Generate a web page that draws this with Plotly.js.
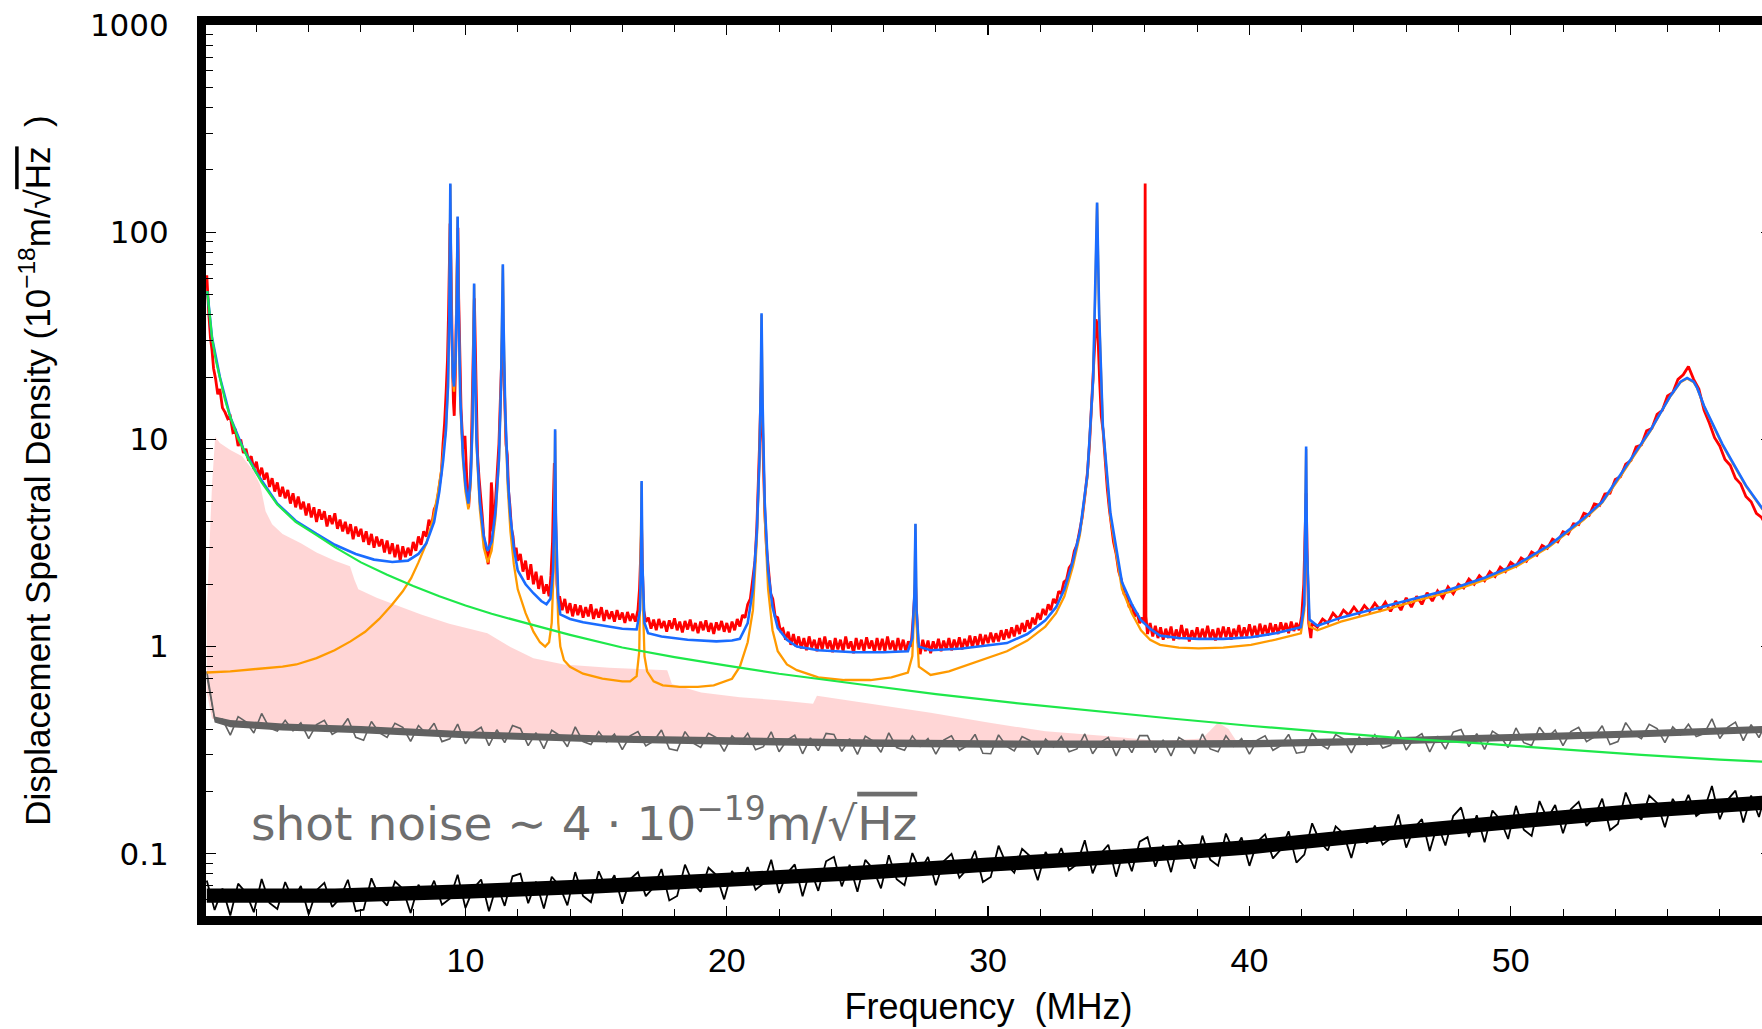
<!DOCTYPE html>
<html><head><meta charset="utf-8">
<script src="https://cdn.plot.ly/plotly-3.0.1.min.js"></script>
<style>html,body{margin:0;padding:0;overflow:hidden;background:#fff}#chart{width:1780px;height:1029px}</style>
</head><body><div id="chart"></div><script>
// ---------- data ----------
const xTickVals = [10, 20, 30, 40, 50];
const xTickText = ['10', '20', '30', '40', '50'];
const xMinorVals = [2,4,6,8,12,14,16,18,22,24,26,28,32,34,36,38,42,44,46,48,52,54,56,58];
const yTickVals = [0.1, 1, 10, 100, 1000];
const yTickText = ['0.1', '1', '10', '100', '1000'];
const yMinorVals = [0.06,0.07,0.08,0.09,0.2,0.3,0.4,0.5,0.6,0.7,0.8,0.9,2,3,4,5,6,7,8,9,20,30,40,50,60,70,80,90,200,300,400,500,600,700,800,900];

// measured displacement spectrum (red), [MHz, 1e-18 m/sqrt(Hz)]
const redSpectrum = [
[0.10,62],[0.14,48],[0.18,40],[0.24,31],[0.30,27],[0.36,22],[0.44,19.5],[0.52,16.5],[0.60,17.5],[0.70,14.2],
[0.80,13.5],[0.90,12.6],[1.00,12.9],[1.10,10.8],[1.20,11.0],[1.30,9.3],[1.40,10.0],[1.50,8.6],[1.60,9.0],[1.70,7.9],
[1.80,8.3],[1.90,7.2],[2.00,7.8],[2.10,6.6],[2.20,7.3],[2.30,6.4],[2.40,6.9],[2.50,5.9],[2.60,6.5],[2.70,5.6],
[2.80,6.2],[2.90,5.3],[3.00,5.9],[3.10,5.2],[3.20,5.7],[3.30,4.9],[3.40,5.5],[3.50,4.7],[3.60,5.3],[3.70,4.6],
[3.80,5.0],[3.90,4.3],[4.00,4.9],[4.10,4.2],[4.20,4.7],[4.30,4.0],[4.40,4.6],[4.50,4.1],[4.60,4.5],[4.70,3.8],
[4.80,4.3],[4.90,3.9],[5.00,4.4],[5.10,3.7],[5.20,4.1],[5.30,3.6],[5.40,4.0],[5.50,3.5],[5.60,3.9],[5.70,3.3],
[5.80,3.8],[5.90,3.4],[6.00,3.7],[6.10,3.2],[6.20,3.6],[6.30,3.1],[6.40,3.5],[6.50,3.0],[6.60,3.4],[6.70,3.05],
[6.80,3.3],[6.90,2.85],[7.00,3.25],[7.10,2.8],[7.20,3.15],[7.30,2.7],[7.40,3.1],[7.50,2.6],[7.60,3.05],[7.70,2.7],
[7.80,3.0],[7.90,2.75],[8.00,3.2],[8.10,2.9],[8.20,3.4],[8.30,3.1],[8.40,3.6],[8.50,3.4],[8.60,4.1],[8.70,3.8],
[8.80,4.6],[8.90,4.9],[9.00,6.2],[9.08,7.0],[9.14,9.5],
[9.20,12],[9.26,17],[9.31,24],[9.35,40],[9.38,70],[9.41,110],[9.43,90],[9.46,45],[9.50,24],[9.54,15],
[9.57,13],[9.61,20],[9.65,38],[9.68,80],[9.71,105],[9.74,48],[9.78,24],[9.83,14],[9.88,10.5],[9.93,9],
[9.98,10.4],[10.03,7.0],[10.08,5.3],[10.12,4.7],[10.17,5.8],[10.22,8.5],[10.27,15],[10.31,32],[10.34,48],[10.37,30],
[10.41,12],[10.46,8.5],[10.52,6.5],[10.58,5.0],[10.64,4.3],[10.70,3.4],[10.76,3.0],[10.82,2.7],[10.87,2.5],[10.92,3.0],
[10.96,4.2],[10.99,6.2],[11.02,5.5],[11.05,3.6],[11.10,4.0],[11.16,5.2],[11.22,6.9],[11.28,9.5],[11.33,15],[11.37,24],
[11.40,34],[11.43,36],[11.46,24],[11.50,14],[11.55,9.5],[11.60,8.4],[11.65,5.6],[11.70,4.8],[11.76,3.7],[11.82,3.4],
[11.88,2.8],[11.94,3.0],[12.00,2.6],
[12.1,2.8],[12.2,2.3],[12.3,2.6],[12.4,2.1],[12.5,2.5],[12.6,2.0],[12.7,2.3],[12.8,1.9],[12.9,2.2],[13.0,1.8],
[13.1,2.0],[13.2,1.75],[13.27,2.2],[13.33,3.2],[13.37,5.5],[13.40,7.7],[13.43,6.0],[13.46,3.2],[13.50,2.0],[13.55,1.7],
[13.6,1.75],[13.7,1.5],[13.8,1.7],[13.9,1.45],[14.0,1.62],[14.1,1.4],[14.2,1.6],[14.3,1.42],[14.4,1.58],[14.5,1.38],
[14.6,1.55],[14.7,1.4],[14.8,1.6],[14.9,1.36],[15.0,1.52],[15.1,1.38],[15.2,1.55],[15.3,1.33],[15.4,1.5],[15.5,1.36],
[15.6,1.48],[15.7,1.32],[15.8,1.5],[15.9,1.35],[16.0,1.46],[16.1,1.3],[16.2,1.47],[16.3,1.33],[16.4,1.44],[16.5,1.32],
[16.6,1.5],[16.66,1.9],[16.70,2.8],[16.74,3.7],[16.77,2.4],[16.82,1.5],[16.9,1.32],
[17.0,1.38],[17.1,1.22],[17.2,1.35],[17.3,1.2],[17.4,1.36],[17.5,1.23],[17.6,1.33],[17.7,1.18],[17.8,1.34],[17.9,1.22],
[18.0,1.37],[18.1,1.2],[18.2,1.32],[18.3,1.17],[18.4,1.33],[18.5,1.21],[18.6,1.35],[18.7,1.19],[18.8,1.3],[18.9,1.16],
[19.0,1.32],[19.1,1.2],[19.2,1.34],[19.3,1.18],[19.4,1.3],[19.5,1.15],[19.6,1.31],[19.7,1.2],[19.8,1.33],[19.9,1.18],
[20.0,1.3],[20.1,1.17],[20.2,1.32],[20.3,1.2],[20.4,1.36],[20.5,1.25],[20.6,1.42],[20.7,1.38],[20.8,1.6],[20.9,1.7],
[21.0,2.1],[21.08,2.6],[21.15,3.8],[21.21,6.0],[21.26,10],[21.30,16],[21.33,20],[21.36,12],[21.40,7],[21.45,4.6],
[21.52,3.0],[21.60,2.4],[21.68,1.8],[21.76,1.7],[21.85,1.4],[21.95,1.38],[22.05,1.2],
[22.15,1.22],[22.25,1.08],[22.35,1.18],[22.45,1.02],[22.55,1.15],[22.65,1.0],[22.75,1.12],[22.85,0.98],[22.95,1.1],[23.05,0.96],
[23.15,1.12],[23.25,0.99],[23.35,1.08],[23.45,0.95],[23.55,1.1],[23.65,0.97],[23.75,1.12],[23.85,0.98],[23.95,1.07],[24.05,0.94],
[24.15,1.1],[24.25,0.97],[24.35,1.08],[24.45,0.95],[24.55,1.12],[24.65,0.98],[24.75,1.06],[24.85,0.93],[24.95,1.1],[25.05,0.97],
[25.15,1.08],[25.25,0.95],[25.35,1.11],[25.45,0.98],[25.55,1.07],[25.65,0.94],[25.75,1.1],[25.85,0.96],[25.95,1.09],[26.05,0.95],
[26.15,1.12],[26.25,0.97],[26.35,1.07],[26.45,0.94],[26.55,1.1],[26.65,0.96],[26.75,1.08],[26.85,0.95],[26.95,1.06],[27.05,1.0],
[27.12,1.3],[27.18,1.7],[27.22,2.05],[27.26,1.5],[27.32,1.05],[27.4,0.92],
[27.5,1.08],[27.6,0.95],[27.7,1.07],[27.8,0.93],[27.9,1.06],[28.0,0.96],[28.1,1.09],[28.2,0.95],[28.3,1.07],[28.4,0.97],
[28.5,1.1],[28.6,0.96],[28.7,1.08],[28.8,0.98],[28.9,1.11],[29.0,0.97],[29.1,1.09],[29.2,1.0],[29.3,1.13],[29.4,0.99],
[29.5,1.12],[29.6,1.01],[29.7,1.15],[29.8,1.02],[29.9,1.14],[30.0,1.04],[30.1,1.17],[30.2,1.05],[30.3,1.16],[30.4,1.06],
[30.5,1.2],[30.6,1.08],[30.7,1.21],[30.8,1.1],[30.9,1.24],[31.0,1.12],[31.1,1.27],[31.2,1.15],[31.3,1.3],[31.4,1.18],
[31.5,1.34],[31.6,1.22],[31.7,1.38],[31.8,1.28],[31.9,1.45],[32.0,1.35],[32.1,1.52],[32.2,1.42],[32.3,1.6],[32.4,1.5],
[32.5,1.7],[32.6,1.62],[32.7,1.85],[32.8,1.8],[32.9,2.05],[33.0,2.1],
[33.1,2.4],[33.2,2.5],[33.3,2.9],[33.4,3.1],[33.5,3.7],[33.6,4.2],[33.7,5.3],[33.8,6.9],[33.88,9.5],[33.95,14],
[34.02,20],[34.08,30],[34.13,38],[34.17,36],[34.21,30],[34.27,19],[34.33,13],[34.4,11],[34.48,7.5],[34.56,5.8],
[34.64,4.6],[34.72,3.9],[34.8,3.2],[34.9,2.8],[35.0,2.3],[35.1,2.1],[35.2,1.8],[35.3,1.75],[35.4,1.55],[35.5,1.6],
[35.6,1.4],[35.7,1.45],[35.8,1.3],[35.9,1.38],[35.97,1.3],[36.01,172],[36.04,1.4],
[36.1,1.15],[36.2,1.3],[36.3,1.12],[36.4,1.26],[36.5,1.1],[36.6,1.24],[36.7,1.08],[36.8,1.22],[36.9,1.1],[37.0,1.25],
[37.1,1.07],[37.2,1.21],[37.3,1.09],[37.4,1.27],[37.5,1.1],[37.6,1.22],[37.7,1.06],[37.8,1.2],[37.9,1.09],[38.0,1.24],
[38.1,1.08],[38.2,1.22],[38.3,1.1],[38.4,1.26],[38.5,1.09],[38.6,1.21],[38.7,1.07],[38.8,1.23],[38.9,1.1],[39.0,1.25],
[39.1,1.11],[39.2,1.24],[39.3,1.08],[39.4,1.22],[39.5,1.12],[39.6,1.27],[39.7,1.1],[39.8,1.24],[39.9,1.12],[40.0,1.28],
[40.1,1.13],[40.2,1.26],[40.3,1.11],[40.4,1.29],[40.5,1.15],[40.6,1.27],[40.7,1.13],[40.8,1.3],[40.9,1.16],[41.0,1.28],
[41.1,1.15],[41.2,1.31],[41.3,1.18],[41.4,1.3],[41.5,1.16],[41.6,1.32],[41.7,1.19],[41.8,1.3],[41.9,1.2],[42.0,1.4],
[42.08,2.0],[42.13,4.0],[42.17,5.5],[42.21,2.8],[42.27,1.3],[42.35,1.1],
[42.4,1.3],[42.6,1.24],[42.8,1.36],[43.0,1.3],[43.2,1.45],[43.4,1.36],[43.6,1.5],[43.8,1.42],[44.0,1.55],[44.2,1.44],
[44.4,1.58],[44.6,1.48],[44.8,1.62],[45.0,1.5],[45.2,1.64],[45.4,1.48],[45.6,1.66],[45.8,1.5],[46.0,1.72],[46.2,1.55],
[46.4,1.75],[46.6,1.6],[46.8,1.82],[47.0,1.66],[47.2,1.86],[47.4,1.72],[47.6,1.94],[47.8,1.8],[48.0,2.0],[48.2,1.92],
[48.4,2.12],[48.6,2.0],[48.8,2.2],[49.0,2.08],[49.2,2.3],[49.4,2.18],[49.6,2.42],[49.8,2.3],[50.0,2.55],[50.2,2.44],
[50.4,2.68],[50.6,2.58],[50.8,2.86],[51.0,2.76],[51.2,3.08],[51.4,2.98],[51.6,3.3],[51.8,3.2],[52.0,3.58],[52.2,3.5],
[52.4,3.92],[52.6,3.88],[52.8,4.4],[53.0,4.3],[53.2,4.88],[53.4,4.8],[53.6,5.45],[53.8,5.5],[54.0,6.4],[54.2,6.6],
[54.4,7.6],[54.6,7.9],[54.8,9.2],[55.0,9.4],[55.2,11.0],[55.4,11.3],[55.6,13.2],[55.8,13.8],[56.0,16.2],[56.2,16.8],
[56.4,19.5],[56.6,20.5],[56.8,22.5],[57.0,19.5],[57.2,17.5],[57.4,13.8],[57.6,12.0],[57.8,10.2],[58.0,9.3],[58.2,8.0],
[58.4,7.5],[58.6,6.5],[58.8,6.1],[59.0,5.3],[59.2,5.0],[59.4,4.4],[59.6,4.2],[59.8,3.8],[59.96,3.7]
];

// full fit (blue)
const fitTotal = [
[0.12,52],[0.3,31],[0.6,20],[1.0,12.8],[1.5,9.0],[2.0,6.9],[2.8,4.9],[3.5,4.05],[4.3,3.5],[5.0,3.1],
[5.8,2.8],[6.5,2.63],[7.2,2.56],[7.8,2.6],[8.2,2.8],[8.5,3.15],[8.8,4.0],[9.0,5.6],[9.15,8.0],[9.25,11],
[9.33,18],[9.38,40],[9.42,172],[9.46,40],[9.52,20],[9.56,18],[9.62,24],[9.67,50],[9.70,119],[9.73,50],
[9.8,16],[9.9,8.5],[10.0,6.0],[10.11,4.9],[10.2,6.5],[10.27,12],[10.31,30],[10.33,56.5],[10.36,25],[10.42,10],
[10.55,5.0],[10.7,3.4],[10.85,2.9],[11.0,3.2],[11.15,4.5],[11.28,8],[11.36,18],[11.41,40],[11.43,70],[11.46,35],
[11.52,14],[11.62,6.5],[11.72,4.25],[11.85,3.0],[12.0,2.33],[12.3,2.0],[12.6,1.81],[12.9,1.66],[13.1,1.6],[13.25,1.7],
[13.35,2.3],[13.41,5],[13.43,11.2],[13.46,4],[13.55,1.7],[13.63,1.43],[14.0,1.36],[14.5,1.31],[15.24,1.26],[16.0,1.22],
[16.55,1.21],[16.68,1.5],[16.72,3],[16.74,6.3],[16.77,2.5],[16.85,1.3],[16.99,1.16],[17.5,1.12],[18.5,1.08],[19.6,1.06],
[20.2,1.07],[20.5,1.09],[20.8,1.3],[21.0,1.89],[21.15,3.57],[21.25,8],[21.3,18],[21.33,40.6],[21.37,15],[21.45,5],
[21.58,2.33],[21.75,1.55],[21.95,1.23],[22.3,1.08],[22.68,1.0],[23.5,0.96],[24.87,0.94],[26.0,0.94],[26.93,0.95],[27.1,1.1],
[27.18,1.8],[27.22,3.92],[27.26,1.5],[27.35,1.0],[27.8,0.96],[29.0,0.98],[30.72,1.04],[31.5,1.15],[32.19,1.34],[32.6,1.55],
[32.92,1.89],[33.25,2.6],[33.51,3.57],[33.8,6.76],[34.02,19.6],[34.1,50],[34.17,139],[34.25,40],[34.39,11.7],[34.68,4.42],
[35.12,2.05],[35.5,1.6],[35.85,1.34],[36.2,1.22],[36.58,1.13],[37.3,1.1],[38.05,1.09],[39.0,1.09],[40.06,1.11],[41.0,1.16],
[41.97,1.24],[42.1,1.6],[42.14,4],[42.17,9.25],[42.2,3],[42.3,1.35],[42.6,1.26],[43.5,1.38],[45.15,1.56],[46.5,1.73],
[47.7,1.89],[49.0,2.15],[50.25,2.5],[51.5,3.1],[52.8,4.17],[53.5,5.0],[54.08,6.38],[54.7,8.4],[55.35,11.1],[55.8,14],
[56.12,16.3],[56.5,19],[56.75,19.8],[57.0,19],[57.13,17.8],[57.4,14.5],[57.77,11.6],[58.1,9.5],[58.54,7.57],[59.0,6.0],
[59.63,4.64],[59.96,4.3]
];

// mechanical modes only (orange)
const fitModes = [
[0.1,0.75],[1.0,0.76],[2.0,0.78],[3.0,0.80],[3.53,0.82],[4.3,0.88],[4.99,0.96],[5.6,1.06],[6.16,1.18],[6.7,1.36],
[7.18,1.59],[7.6,1.85],[7.92,2.14],[8.2,2.55],[8.5,3.14],[8.75,4.1],[8.94,5.47],[9.1,7.5],[9.18,9.5],[9.25,11],
[9.33,18],[9.38,40],[9.42,170],[9.46,40],[9.52,19],[9.56,17],[9.62,23],[9.67,50],[9.70,118],[9.73,50],
[9.8,15],[9.9,8.0],[10.0,5.6],[10.11,4.6],[10.2,6.2],[10.27,12],[10.31,30],[10.33,56],[10.36,25],[10.42,9.5],
[10.55,4.6],[10.7,3.0],[10.85,2.55],[11.0,2.9],[11.15,4.2],[11.28,7.8],[11.36,18],[11.41,40],[11.43,69],[11.46,35],
[11.52,13],[11.62,5.8],[11.72,3.6],[11.85,2.5],[12.0,1.89],[12.3,1.45],[12.6,1.18],[12.85,1.05],[13.05,1.0],[13.2,1.05],
[13.3,1.3],[13.38,2.5],[13.43,11],[13.47,3],[13.55,1.3],[13.63,1.0],[13.77,0.86],[14.0,0.8],[14.5,0.74],[15.24,0.70],
[16.0,0.68],[16.3,0.68],[16.55,0.72],[16.65,0.95],[16.72,3],[16.74,6.2],[16.77,2],[16.85,0.9],[16.95,0.76],[17.2,0.68],
[17.55,0.65],[18.2,0.64],[18.89,0.64],[19.5,0.65],[20.2,0.70],[20.5,0.8],[20.8,1.05],[21.0,1.5],[21.15,3.3],[21.25,8],
[21.3,18],[21.33,40],[21.37,14],[21.45,4.3],[21.58,1.9],[21.75,1.2],[21.95,0.95],[22.3,0.82],[22.68,0.77],[23.5,0.71],
[24.5,0.69],[25.5,0.69],[26.3,0.71],[26.93,0.75],[27.1,0.9],[27.18,1.6],[27.22,3.9],[27.26,1.3],[27.35,0.8],[27.8,0.73],
[28.5,0.76],[29.27,0.82],[30.0,0.88],[30.72,0.95],[31.5,1.07],[32.19,1.25],[32.6,1.45],[32.92,1.75],[33.25,2.45],[33.51,3.45],
[33.8,6.6],[34.02,19.5],[34.1,50],[34.17,138],[34.25,40],[34.39,11.5],[34.68,4.2],[35.12,1.9],[35.5,1.45],[35.85,1.2],
[36.2,1.08],[36.58,1.02],[37.3,0.99],[38.05,0.98],[39.0,0.99],[40.06,1.02],[41.0,1.08],[41.97,1.16],[42.1,1.5],[42.14,3.8],
[42.17,9],[42.2,2.8],[42.3,1.25],[42.6,1.2],[43.5,1.32],[45.15,1.5],[46.5,1.68],[47.7,1.84],[49.0,2.1],[50.25,2.45],
[51.5,3.05],[52.8,4.1],[53.5,4.95],[54.08,6.3],[54.7,8.3],[55.35,11],[55.8,13.9],[56.12,16.2],[56.5,18.9],[56.75,19.7],
[57.0,18.9],[57.13,17.7],[57.4,14.4],[57.77,11.5],[58.1,9.4],[58.54,7.5],[59.0,5.95],[59.63,4.6],[59.96,4.25]
];

// 1/f background (green)
const background = [
[0.12,52],[0.2,41],[0.3,31],[0.45,24],[0.6,20],[0.8,15.5],[1.0,12.8],[1.3,10.1],[1.7,8.0],[2.2,6.2],
[2.8,4.85],[3.5,4.0],[4.3,3.45],[5.0,3.02],[6.0,2.55],[7.0,2.22],[8.0,1.96],[9.0,1.75],[10.0,1.58],[11.0,1.44],
[12.5,1.28],[14,1.14],[16,0.99],[18,0.89],[20,0.81],[22,0.74],[25,0.66],[28,0.59],[31,0.535],[34,0.49],
[37,0.45],[40,0.415],[43,0.385],[46,0.36],[49,0.34],[52,0.32],[55,0.30],[58,0.285],[59.96,0.277]
];

// shaded band (pink): upper edge and lower edge
const bandTop = [
[0.1,1.5],[0.2,3.0],[0.3,6.0],[0.42,10.3],[0.6,9.6],[1.0,8.9],[1.45,8.3],[1.9,7.0],[2.15,6.0],[2.35,4.5],
[2.6,3.9],[3.0,3.5],[3.7,3.15],[4.3,2.85],[5.0,2.6],[5.58,2.44],[5.75,2.1],[5.9,1.89],[6.6,1.72],[7.33,1.59],
[8.3,1.43],[9.38,1.29],[10.84,1.16],[11.7,1.0],[12.6,0.88],[13.77,0.82],[15.5,0.79],[17.72,0.77],[17.9,0.66],[19.02,0.60],
[20.5,0.57],[22.08,0.55],[23.3,0.53],[23.45,0.58],[25.5,0.53],[27.8,0.48],[30,0.43],[32.2,0.39],[34.5,0.37],[36.6,0.35],
[38.2,0.36],[38.8,0.43],[39.2,0.40],[39.5,0.35]
];
const bandBottom = [
[0.1,0.6],[0.3,0.45],[1,0.41],[3,0.40],[6,0.385],[10,0.37],[15,0.355],[20,0.345],[25,0.34],[30,0.335],[35,0.335],[39.5,0.335]
];

// solid core of the two noise floors: [MHz, lower, upper]
const grayCore = [
[0.1,0.69,0.75],[0.4,0.43,0.46],[1,0.408,0.442],[3,0.394,0.426],[6,0.382,0.414],[10,0.361,0.391],[15,0.346,0.374],
[20,0.336,0.364],[25,0.329,0.357],[30,0.325,0.353],[35,0.324,0.352],[40,0.326,0.354],[45,0.336,0.364],[50,0.349,0.379],
[55,0.365,0.395],[59.96,0.384,0.416]
];
const blackCore = [
[0.1,0.058,0.068],[5,0.058,0.068],[10,0.0607,0.0713],[15,0.0644,0.0756],[20,0.069,0.081],[25,0.0745,0.0875],
[30,0.0819,0.0961],[35,0.0892,0.1048],[40,0.0994,0.1166],[45,0.115,0.135],[50,0.1316,0.1544],[55,0.149,0.175],[59.96,0.1638,0.1922]
];

// detector noise floors, sampled on a common frequency grid
const noiseFreq = [
0.1,0.4,0.7,1.0,1.3,1.6,1.9,2.2,2.5,2.8, 3.1,3.4,3.7,4.0,4.3,4.6,4.9,5.2,5.5,5.8,
6.1,6.4,6.7,7.0,7.3,7.6,7.9,8.2,8.5,8.8, 9.1,9.4,9.7,10.0,10.3,10.6,10.9,11.2,11.5,11.8,
12.1,12.4,12.7,13.0,13.3,13.6,13.9,14.2,14.5,14.8, 15.1,15.4,15.7,16.0,16.3,16.6,16.9,17.2,17.5,17.8,
18.1,18.4,18.7,19.0,19.3,19.6,19.9,20.2,20.5,20.8, 21.1,21.4,21.7,22.0,22.3,22.6,22.9,23.2,23.5,23.8,
24.1,24.4,24.7,25.0,25.3,25.6,25.9,26.2,26.5,26.8, 27.1,27.4,27.7,28.0,28.3,28.6,28.9,29.2,29.5,29.8,
30.1,30.4,30.7,31.0,31.3,31.6,31.9,32.2,32.5,32.8, 33.1,33.4,33.7,34.0,34.3,34.6,34.9,35.2,35.5,35.8,
36.1,36.4,36.7,37.0,37.3,37.6,37.9,38.2,38.5,38.8, 39.1,39.4,39.7,40.0,40.3,40.6,40.9,41.2,41.5,41.8,
42.1,42.4,42.7,43.0,43.3,43.6,43.9,44.2,44.5,44.8, 45.1,45.4,45.7,46.0,46.3,46.6,46.9,47.2,47.5,47.8,
48.1,48.4,48.7,49.0,49.3,49.6,49.9,50.2,50.5,50.8, 51.1,51.4,51.7,52.0,52.3,52.6,52.9,53.2,53.5,53.8,
54.1,54.4,54.7,55.0,55.3,55.6,55.9,56.2,56.5,56.8, 57.1,57.4,57.7,58.0,58.3,58.6,58.9,59.2,59.5,59.8
];
// gray trace
const grayNoise = [
0.76,0.45,0.446,0.374,0.459,0.434,0.383,0.476,0.404,0.391, 0.441,0.393,0.429,0.36,0.421,0.441,0.377,0.397,0.45,0.365,
0.353,0.435,0.384,0.365,0.427,0.408,0.349,0.416,0.38,0.427, 0.348,0.359,0.423,0.34,0.386,0.408,0.333,0.397,0.344,0.416,
0.403,0.333,0.384,0.322,0.395,0.373,0.329,0.41,0.348,0.337, 0.389,0.346,0.378,0.318,0.371,0.389,0.332,0.35,0.396,0.321,
0.315,0.389,0.343,0.326,0.382,0.364,0.312,0.371,0.34,0.382, 0.318,0.329,0.388,0.311,0.353,0.374,0.304,0.363,0.315,0.381,
0.377,0.312,0.36,0.302,0.37,0.35,0.309,0.384,0.326,0.316, 0.371,0.33,0.36,0.303,0.354,0.371,0.316,0.333,0.377,0.306,
0.304,0.375,0.331,0.314,0.368,0.352,0.301,0.358,0.328,0.368, 0.311,0.321,0.379,0.304,0.345,0.365,0.297,0.355,0.308,0.372,
0.372,0.308,0.355,0.297,0.365,0.345,0.304,0.379,0.321,0.311, 0.371,0.33,0.36,0.303,0.354,0.371,0.316,0.333,0.377,0.306,
0.311,0.383,0.338,0.321,0.376,0.359,0.307,0.366,0.335,0.376, 0.324,0.334,0.394,0.317,0.359,0.38,0.31,0.37,0.32,0.387,
0.398,0.329,0.38,0.319,0.391,0.369,0.326,0.405,0.344,0.333, 0.408,0.363,0.396,0.333,0.389,0.408,0.348,0.367,0.415,0.337,
0.348,0.43,0.379,0.36,0.422,0.402,0.344,0.41,0.375,0.422, 0.368,0.38,0.448,0.36,0.408,0.432,0.352,0.42,0.364,0.44
];
// black trace
const blackNoise = [
0.0743,0.0536,0.068,0.0504,0.0718,0.0649,0.0523,0.0756,0.058,0.0542, 0.0731,0.0599,0.0699,0.051,0.0668,0.0725,0.0554,0.0611,0.075,0.0529,
0.0538,0.0762,0.0621,0.0563,0.0736,0.0678,0.0518,0.071,0.0608,0.0742, 0.0568,0.0607,0.0792,0.0548,0.068,0.0752,0.0528,0.0713,0.0561,0.0779,
0.0802,0.0578,0.0734,0.0544,0.0775,0.070,0.0564,0.0816,0.0626,0.0585, 0.0824,0.0675,0.0788,0.0575,0.0753,0.0817,0.0625,0.0689,0.0845,0.0596,
0.0626,0.0887,0.0723,0.0656,0.0857,0.079,0.0603,0.0827,0.0708,0.0864, 0.0671,0.0718,0.0936,0.0647,0.0803,0.0889,0.0624,0.0842,0.0663,0.092,
0.0968,0.0697,0.0886,0.0656,0.0935,0.0845,0.0681,0.0984,0.0754,0.0705, 0.1009,0.0827,0.0966,0.0705,0.0922,0.100,0.0766,0.0844,0.1035,0.0731,
0.0773,0.1095,0.0892,0.081,0.1058,0.0975,0.0745,0.1021,0.0874,0.1067, 0.0834,0.0892,0.1164,0.0805,0.0999,0.1106,0.0776,0.1048,0.0825,0.1145,
0.1204,0.0867,0.1102,0.0816,0.1163,0.1051,0.0847,0.1224,0.0938,0.0877, 0.1253,0.1026,0.1199,0.0875,0.1145,0.1242,0.095,0.1048,0.1285,0.0907,
0.0991,0.1404,0.1145,0.1038,0.1357,0.1251,0.0956,0.131,0.1121,0.1369, 0.1109,0.1187,0.1548,0.1071,0.1329,0.1471,0.1032,0.1393,0.1097,0.1522,
0.1676,0.1207,0.1534,0.1136,0.1619,0.1463,0.1179,0.1704,0.1306,0.1221, 0.1798,0.1473,0.1721,0.1256,0.1643,0.1783,0.1364,0.1504,0.1845,0.1302,
0.1394,0.1975,0.161,0.1461,0.1909,0.176,0.1345,0.1843,0.1577,0.1926, 0.1522,0.1628,0.2124,0.1469,0.1823,0.2018,0.1416,0.1912,0.1505,0.2089
];

// ---------- chart ----------
const xs = a => a.map(p => p[0]);
const ys = a => a.map(p => p[1]);
const ring = (a, lo, hi) => ({
  x: a.map(p => p[0]).concat(a.map(p => p[0]).reverse()),
  y: a.map(p => p[hi]).concat(a.map(p => p[lo]).reverse())
});

const bandX = xs(bandTop).concat(xs(bandBottom).reverse());
const bandY = ys(bandTop).concat(ys(bandBottom).reverse());
const grayRing = ring(grayCore, 1, 2);
const blackRing = ring(blackCore, 1, 2);

const traces = [
  {x: bandX, y: bandY, mode: 'lines', fill: 'toself', fillcolor: 'rgba(255,120,120,0.30)',
   line: {width: 0, color: 'rgba(0,0,0,0)'}, hoverinfo: 'skip'},
  {x: grayRing.x, y: grayRing.y, mode: 'lines', fill: 'toself', fillcolor: '#626262',
   line: {width: 0, color: 'rgba(0,0,0,0)'}, hoverinfo: 'skip'},
  {x: noiseFreq, y: grayNoise, mode: 'lines', line: {color: '#626262', width: 1.6}},
  {x: blackRing.x, y: blackRing.y, mode: 'lines', fill: 'toself', fillcolor: '#000000',
   line: {width: 0, color: 'rgba(0,0,0,0)'}, hoverinfo: 'skip'},
  {x: noiseFreq, y: blackNoise, mode: 'lines', line: {color: '#000000', width: 1.8}},
  {x: xs(redSpectrum), y: ys(redSpectrum), mode: 'lines', line: {color: '#ff0000', width: 2.8}},
  {x: xs(fitModes), y: ys(fitModes), mode: 'lines', line: {color: '#ff9a00', width: 2.3}},
  {x: xs(fitTotal), y: ys(fitTotal), mode: 'lines', line: {color: '#1a6cff', width: 2.6}},
  {x: xs(background), y: ys(background), mode: 'lines', line: {color: '#1ee84a', width: 2.2}}
];

const sqrtHz = '√<span style="text-decoration:overline">Hz</span>';

const layout = {
  width: 1780, height: 1029,
  margin: {l: 206, r: 9, t: 25, b: 113},
  paper_bgcolor: '#ffffff', plot_bgcolor: '#ffffff',
  showlegend: false,
  xaxis: {
    range: [0.07, 59.96], showgrid: false, zeroline: false,
    showline: true, linewidth: 9, linecolor: '#000', mirror: 'ticks',
    ticks: 'inside', ticklen: 10, tickwidth: 1.3, tickcolor: '#000',
    tickmode: 'array', tickvals: xTickVals, ticktext: xTickText,
    tickfont: {family: 'Liberation Sans, Arial, sans-serif', size: 34, color: '#000'},
    ticklabelstandoff: 6,
    minor: {ticks: 'inside', ticklen: 7, tickwidth: 1, tickcolor: '#000', tickmode: 'array', tickvals: xMinorVals, showgrid: false},
    title: {text: 'Frequency\u00a0 (MHz)', font: {family: 'Liberation Sans, Arial, sans-serif', size: 36, color: '#000'}, standoff: 20}
  },
  yaxis: {
    type: 'log', range: [-1.3, 3], showgrid: false, zeroline: false,
    showline: true, linewidth: 9, linecolor: '#000', mirror: 'ticks',
    ticks: 'inside', ticklen: 10, tickwidth: 1.3, tickcolor: '#000',
    tickmode: 'array', tickvals: yTickVals, ticktext: yTickText,
    tickfont: {family: 'DejaVu Sans, sans-serif', size: 31, color: '#000'},
    ticklabelstandoff: 22,
    minor: {ticks: 'inside', ticklen: 7, tickwidth: 1, tickcolor: '#000', tickmode: 'array', tickvals: yMinorVals, showgrid: false},
    title: {text: 'Displacement Spectral Density (10<sup>−18</sup>m/' + sqrtHz + '\u00a0 )',
            font: {family: 'Liberation Sans, Arial, sans-serif', size: 35, color: '#000'}, standoff: 32}
  },
  annotations: [{
    xref: 'paper', yref: 'paper', x: 0.2415, y: 0.108, xanchor: 'center', yanchor: 'middle',
    showarrow: false,
    text: 'shot noise ∼ 4 · 10<sup>−19</sup>m/' + sqrtHz,
    font: {family: 'DejaVu Sans, sans-serif', size: 47, color: '#6e6e6e'}
  }]
};

Plotly.newPlot('chart', traces, layout, {displayModeBar: false, staticPlot: true});
</script></body></html>
